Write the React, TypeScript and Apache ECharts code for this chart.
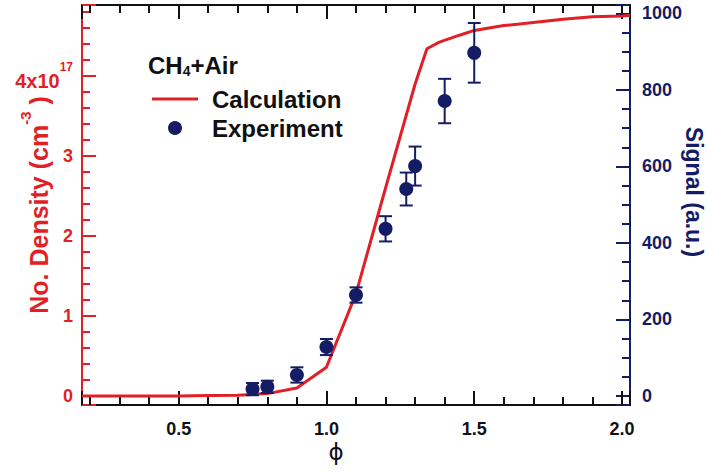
import React, { useEffect, useRef } from 'react';
import * as echarts from 'echarts';

// Calculation (left axis, x10^17 cm^-3)
const calcPhi = [0.173, 0.5, 0.6, 0.7, 0.8, 0.9, 1.0, 1.1, 1.2, 1.3, 1.34, 1.38, 1.45, 1.5, 1.6, 1.7, 1.8, 1.9, 2.0, 2.027];
const calcDensity = [0, 0, 0.005, 0.01, 0.03, 0.1, 0.36, 1.28, 2.6, 3.9, 4.34, 4.42, 4.51, 4.57, 4.63, 4.67, 4.71, 4.74, 4.75, 4.76];

// Experiment (right axis, a.u.)
const expPhi = [0.75, 0.8, 0.9, 1.0, 1.1, 1.2, 1.27, 1.3, 1.4, 1.5];
const expSignal = [18, 24, 55, 128, 264, 437, 541, 601, 771, 897];
const expError = [16, 16, 20, 21, 20, 33, 43, 51, 58, 78];

const RED = '#e11f26';
const NAVY = '#141c66';
const FONT = '"Liberation Sans", Arial, Helvetica, sans-serif';

export default function App() {
  const ref = useRef<HTMLDivElement>(null);

  useEffect(() => {
    if (!ref.current) return;
    const chart = echarts.init(ref.current, undefined, { renderer: 'svg' });

    const calcData = calcPhi.map((x, i) => [x, calcDensity[i]]);
    const expData = expPhi.map((x, i) => [x, expSignal[i]]);
    const errData = expPhi.map((x, i) => [x, expSignal[i] - expError[i], expSignal[i] + expError[i]]);

    const isMult = (v: number, m: number) => Math.abs(v / m - Math.round(v / m)) < 1e-6;

    const xCommon = {
      type: 'value',
      min: 0.173,
      max: 2.027,
      minInterval: 0.5,
      maxInterval: 0.5,
      splitLine: { show: false },
      axisLine: { show: true, onZero: false, lineStyle: { color: '#111', width: 2 } },
      axisTick: { show: true, inside: true, length: 14, lineStyle: { color: '#111', width: 2 } },
      minorTick: { show: true, splitNumber: 5, length: 8, lineStyle: { color: '#111', width: 2 } },
    };

    const option: any = {
      animation: false,
      backgroundColor: '#ffffff',
      title: {
        text: '{m|CH}{s|4}{m|+Air}',
        left: 148,
        top: 52,
        padding: 0,
        textStyle: {
          rich: {
            m: { fontFamily: FONT, fontSize: 24, fontWeight: 'bold', color: '#111', lineHeight: 26 },
            s: { fontFamily: FONT, fontSize: 14, fontWeight: 'bold', color: '#111', padding: [12, 0, 0, 0] },
          },
        },
      },
      legend: {
        data: [
          { name: 'Calculation', icon: 'path://M0,0 L46,0 L46,3 L0,3 Z', itemStyle: { color: RED } },
          { name: 'Experiment', icon: 'circle' },
        ],
        orient: 'vertical',
        left: 152,
        top: 87,
        padding: 0,
        itemWidth: 46,
        itemHeight: 14,
        itemGap: 5,
        textStyle: { fontFamily: FONT, fontSize: 24, fontWeight: 'bold', color: '#111', padding: [0, 0, 0, 9] },
      },
      grid: { left: 82, right: 77, top: 5, bottom: 68, containLabel: false, outerBoundsMode: 'none' },
      xAxis: [
        {
          ...xCommon,
          position: 'bottom',
          name: 'ϕ',
          nameLocation: 'middle',
          nameGap: 35,
          nameMoveOverlap: false,
          nameTextStyle: { fontFamily: '"DejaVu Sans", sans-serif', fontSize: 23, color: '#111', padding: [0, 40, 0, 0] },
          axisLabel: {
            show: true,
            margin: 15,
            fontFamily: FONT,
            fontSize: 18,
            fontWeight: 'bold',
            color: '#111',
            formatter: (v: number) => (isMult(v, 0.5) && v > 0.3 ? v.toFixed(1) : ''),
          },
        },
        {
          ...xCommon,
          position: 'top',
          axisLabel: { show: false },
        },
      ],
      yAxis: [
        {
          type: 'value',
          position: 'left',
          min: -0.1125,
          max: 4.8875,
          minInterval: 1,
          maxInterval: 1,
          splitLine: { show: false },
          axisLine: { show: true, onZero: false, lineStyle: { color: RED, width: 2 } },
          axisTick: { show: true, inside: true, length: 14, lineStyle: { color: RED, width: 2 } },
          minorTick: { show: true, splitNumber: 5, length: 8, lineStyle: { color: RED, width: 2 } },
          axisLabel: {
            margin: 9,
            fontFamily: FONT,
            fontSize: 18,
            fontWeight: 'bold',
            color: RED,
            formatter: (v: number) => {
              if (!isMult(v, 1) || v < -0.01) return '';
              const n = Math.round(v);
              if (n === 4) return '{m|4x10}{sup|17}';
              return String(n);
            },
            rich: {
              m: { fontFamily: FONT, fontSize: 20, fontWeight: 'bold', color: RED, padding: [10, 0, 0, 0] },
              sup: { fontFamily: FONT, fontSize: 12, fontWeight: 'bold', color: RED, verticalAlign: 'top' },
            },
          },
          name: '{a|No. Density (cm}{sup|-3}{a| )}',
          nameLocation: 'middle',
          nameGap: 31,
          nameMoveOverlap: false,
          nameTextStyle: {
            rich: {
              a: { fontFamily: FONT, fontSize: 25, fontWeight: 'bold', color: RED, padding: [8, 0, 0, 0] },
              sup: { fontFamily: FONT, fontSize: 15, fontWeight: 'bold', color: RED, verticalAlign: 'top' },
            },
          },
        },
        {
          type: 'value',
          position: 'right',
          min: -23.5,
          max: 1022,
          minInterval: 200,
          maxInterval: 200,
          splitLine: { show: false },
          axisLine: { show: true, onZero: false, lineStyle: { color: NAVY, width: 2 } },
          axisTick: { show: true, inside: true, length: 14, lineStyle: { color: NAVY, width: 2 } },
          minorTick: { show: true, splitNumber: 4, length: 8, lineStyle: { color: NAVY, width: 2 } },
          axisLabel: {
            margin: 12,
            fontFamily: FONT,
            fontSize: 18,
            fontWeight: 'bold',
            color: NAVY,
            formatter: (v: number) => (isMult(v, 200) && v > -1 ? String(Math.round(v)) : ''),
          },
          name: 'Signal (a.u.)',
          nameLocation: 'middle',
          nameRotate: -90,
          nameGap: 52,
          nameMoveOverlap: false,
          nameTextStyle: { fontFamily: FONT, fontSize: 23, fontWeight: 'bold', color: NAVY, padding: [0, 26, 0, 0] },
        },
      ],
      series: [
        {
          name: 'Calculation',
          type: 'line',
          xAxisIndex: 0,
          yAxisIndex: 0,
          data: calcData,
          symbol: 'none',
          showSymbol: false,
          smooth: false,
          clip: true,
          lineStyle: { color: RED, width: 3 },
          itemStyle: { color: RED },
          z: 3,
        },
        {
          name: 'Experiment error',
          type: 'custom',
          xAxisIndex: 0,
          yAxisIndex: 1,
          data: errData,
          encode: { x: 0, y: [1, 2] },
          z: 4,
          renderItem: (params: any, api: any) => {
            const x = api.value(0);
            const lo = api.coord([x, api.value(1)]);
            const hi = api.coord([x, api.value(2)]);
            const w = 6.5;
            const style = { stroke: NAVY, lineWidth: 2, fill: 'none' };
            return {
              type: 'group',
              children: [
                { type: 'line', shape: { x1: lo[0], y1: lo[1], x2: hi[0], y2: hi[1] }, style },
                { type: 'line', shape: { x1: lo[0] - w, y1: lo[1], x2: lo[0] + w, y2: lo[1] }, style },
                { type: 'line', shape: { x1: hi[0] - w, y1: hi[1], x2: hi[0] + w, y2: hi[1] }, style },
              ],
            };
          },
        },
        {
          name: 'Experiment',
          type: 'scatter',
          xAxisIndex: 0,
          yAxisIndex: 1,
          data: expData,
          symbol: 'circle',
          symbolSize: 14,
          itemStyle: { color: NAVY, opacity: 1 },
          z: 5,
        },
      ],
    };

    chart.setOption(option);
    return () => chart.dispose();
  }, []);

  return (
    <div
      ref={ref}
      style={{ position: 'fixed', left: 0, top: 0, width: 707, height: 473, background: '#fff' }}
    />
  );
}
